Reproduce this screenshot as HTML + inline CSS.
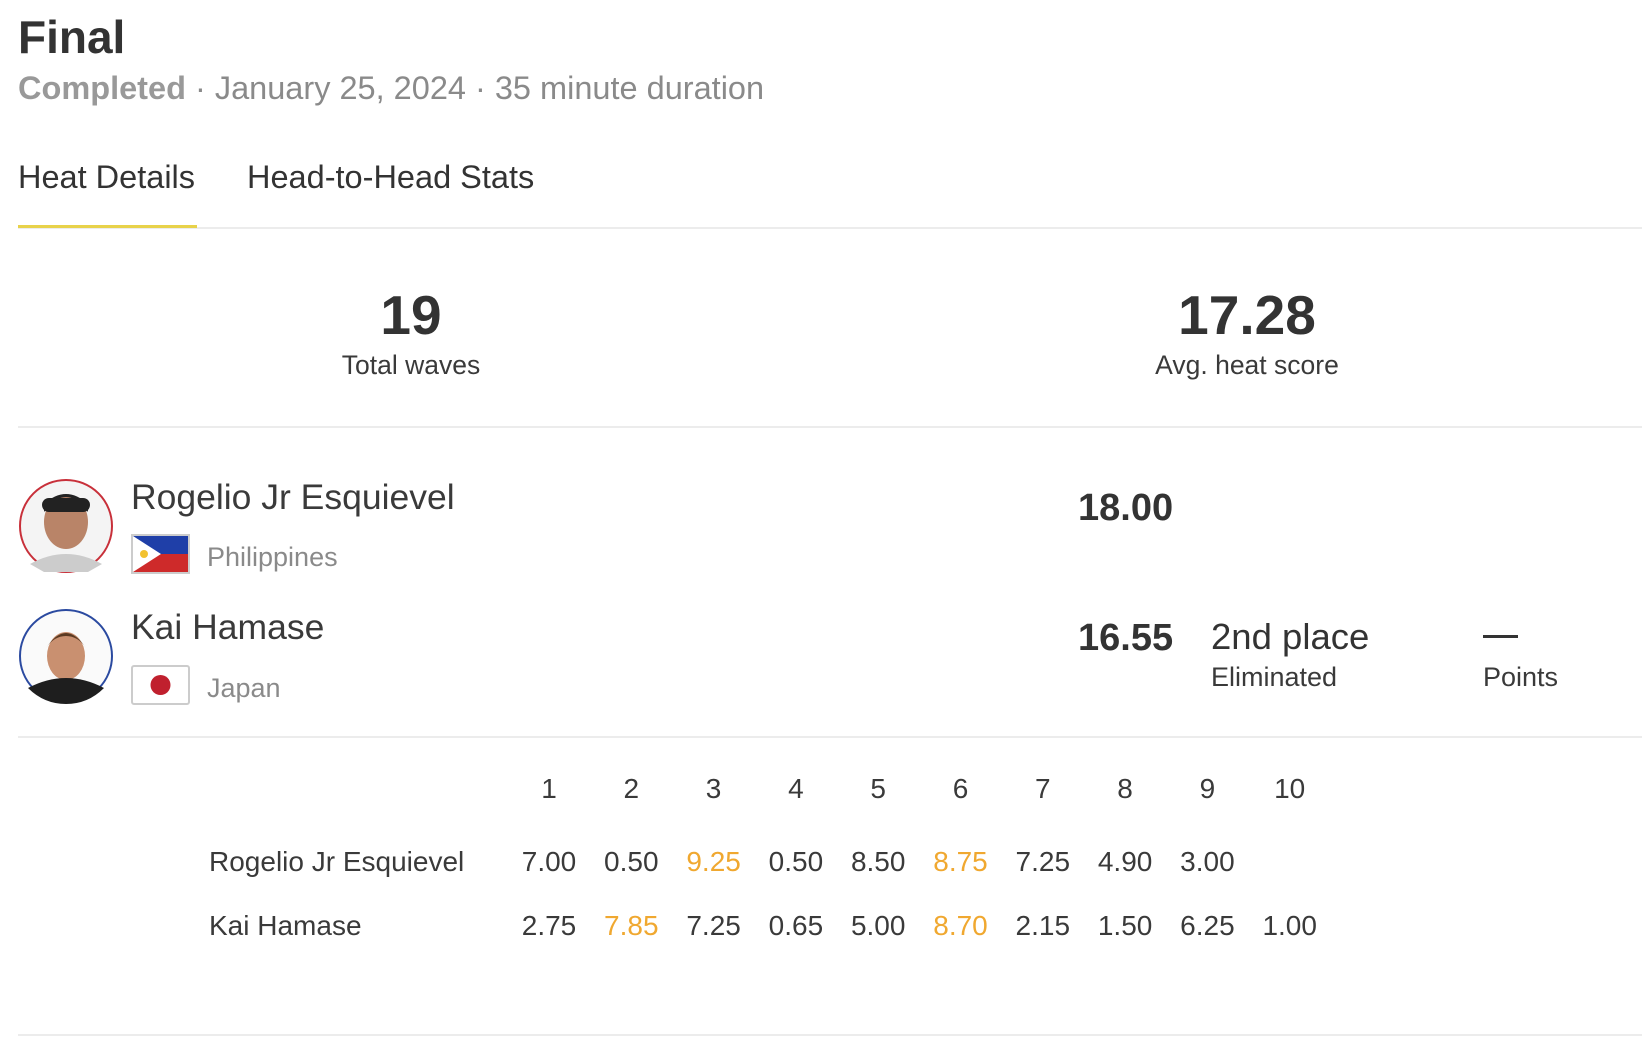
<!DOCTYPE html>
<html><head><meta charset="utf-8"><style>
body{margin:0;width:1652px;height:1046px;background:#fff;position:relative;overflow:hidden;font-family:"Liberation Sans",sans-serif;color:#3a3a3a}
.a{position:absolute;white-space:nowrap;line-height:1}
.hr{position:absolute;left:18px;width:1624px;height:2px;background:#ececec}
.c{transform:translateX(-50%)}
</style></head><body>
<div class="a" style="left:18px;top:14px;font-size:46px;font-weight:bold;color:#333">Final</div>
<div class="a" style="left:18px;top:72px;font-size:32.5px;color:#8a8a8a"><b style="color:#999">Completed</b> · January 25, 2024 · 35 minute duration</div>
<div class="a" style="left:18px;top:161px;font-size:32.5px;color:#333">Heat Details</div>
<div class="a" style="left:247px;top:161px;font-size:32.5px;color:#333">Head-to-Head Stats</div>
<div class="hr" style="top:227px"></div>
<div class="a" style="left:18px;top:225px;width:179px;height:3px;background:#e8d24a"></div>

<div class="a c" style="left:411px;top:288px;font-size:55px;font-weight:bold;color:#333">19</div>
<div class="a c" style="left:411px;top:352px;font-size:26.5px">Total waves</div>
<div class="a c" style="left:1247px;top:288px;font-size:55px;font-weight:bold;color:#333">17.28</div>
<div class="a c" style="left:1247px;top:352px;font-size:26.5px">Avg. heat score</div>
<div class="hr" style="top:426px"></div>

<svg class="a" style="left:18px;top:478px" width="96" height="96"><circle cx="48" cy="48" r="46" fill="#f4f4f4" stroke="#c8303a" stroke-width="2"/><ellipse cx="48" cy="44" rx="22" ry="27" fill="#b98468"/><path d="M26 34 Q48 4 70 34 L70 26 Q48 6 26 26Z" fill="#222"/><rect x="24" y="20" width="48" height="14" rx="7" fill="#222"/><path d="M12 86 Q48 66 84 86 L70 94 L26 94Z" fill="#ccc"/></svg>
<svg class="a" style="left:18px;top:608px" width="96" height="96"><circle cx="48" cy="48" r="46" fill="#fafafa" stroke="#2b4aa0" stroke-width="2"/><ellipse cx="48" cy="48" rx="19" ry="24" fill="#c99070"/><path d="M28 40 Q48 10 68 40 Q60 28 48 28 Q36 28 28 40Z" fill="#5a3a22"/><path d="M10 80 Q48 60 86 80 Q70 96 48 96 Q26 96 10 80Z" fill="#1e1e1e"/></svg>

<div class="a" style="left:131px;top:480px;font-size:35.5px">Rogelio Jr Esquievel</div>
<svg class="a" style="left:131px;top:534px" width="59" height="40"><rect x="1" y="1" width="57" height="38" fill="#ce2a2a" stroke="#ccc" stroke-width="2"/><rect x="2" y="2" width="55" height="18" fill="#1f3fa8"/><polygon points="2,2 30,20 2,38" fill="#fff"/><circle cx="13" cy="20" r="4" fill="#f2c230"/></svg>
<div class="a" style="left:207px;top:544px;font-size:27px;color:#8a8a8a">Philippines</div>
<div class="a" style="left:1078px;top:489px;font-size:38px;font-weight:bold;color:#333">18.00</div>

<div class="a" style="left:131px;top:610px;font-size:35.5px">Kai Hamase</div>
<svg class="a" style="left:131px;top:665px" width="59" height="40"><rect x="1" y="1" width="57" height="38" rx="2" fill="#fff" stroke="#ccc" stroke-width="2"/><circle cx="29.5" cy="20" r="10" fill="#c0202e"/></svg>
<div class="a" style="left:207px;top:675px;font-size:27px;color:#8a8a8a">Japan</div>
<div class="a" style="left:1078px;top:619px;font-size:38px;font-weight:bold;color:#333">16.55</div>
<div class="a" style="left:1211px;top:619px;font-size:36.5px;color:#333">2nd place</div>
<div class="a" style="left:1211px;top:664px;font-size:27px">Eliminated</div>
<div class="a" style="left:1483px;top:635px;width:35px;height:3px;background:#333"></div>
<div class="a" style="left:1483px;top:664px;font-size:27px">Points</div>
<div class="hr" style="top:736px"></div>

<div id="waves"></div>
<div class="hr" style="top:1034px"></div>

<script>
const waveNumbers = ["1","2","3","4","5","6","7","8","9","10"];
const surferNames = ["Rogelio Jr Esquievel","Kai Hamase"];
const surfer1Scores = ["7.00","0.50","9.25","0.50","8.50","8.75","7.25","4.90","3.00"];
const surfer2Scores = ["2.75","7.85","7.25","0.65","5.00","8.70","2.15","1.50","6.25","1.00"];
const surfer1Counting = [2,5];
const surfer2Counting = [1,5];
const colX = i => 549 + i*82.3;
const wrap = document.getElementById('waves');
function add(txt, x, top, color, name, center){
  const d = document.createElement('div');
  d.className = 'a' + (center ? ' c' : '');
  d.style.left = x + 'px'; d.style.top = top + 'px';
  d.style.fontSize = '28px'; d.style.color = color;
  d.textContent = txt;
  
  
  wrap.appendChild(d);
}
waveNumbers.forEach((n,i)=>add(n, colX(i), 775, '#3a3a3a', 'wave-number-'+n, true));
add(surferNames[0], 209, 848, '#3a3a3a', 'row-name-esquievel', false);
add(surferNames[1], 209, 912, '#3a3a3a', 'row-name-hamase', false);
surfer1Scores.forEach((s,i)=>add(s, colX(i), 848, surfer1Counting.includes(i)?'#f0a830':'#3a3a3a', 'esquievel-wave-'+(i+1), true));
surfer2Scores.forEach((s,i)=>add(s, colX(i), 912, surfer2Counting.includes(i)?'#f0a830':'#3a3a3a', 'hamase-wave-'+(i+1), true));
</script>
</body></html>
